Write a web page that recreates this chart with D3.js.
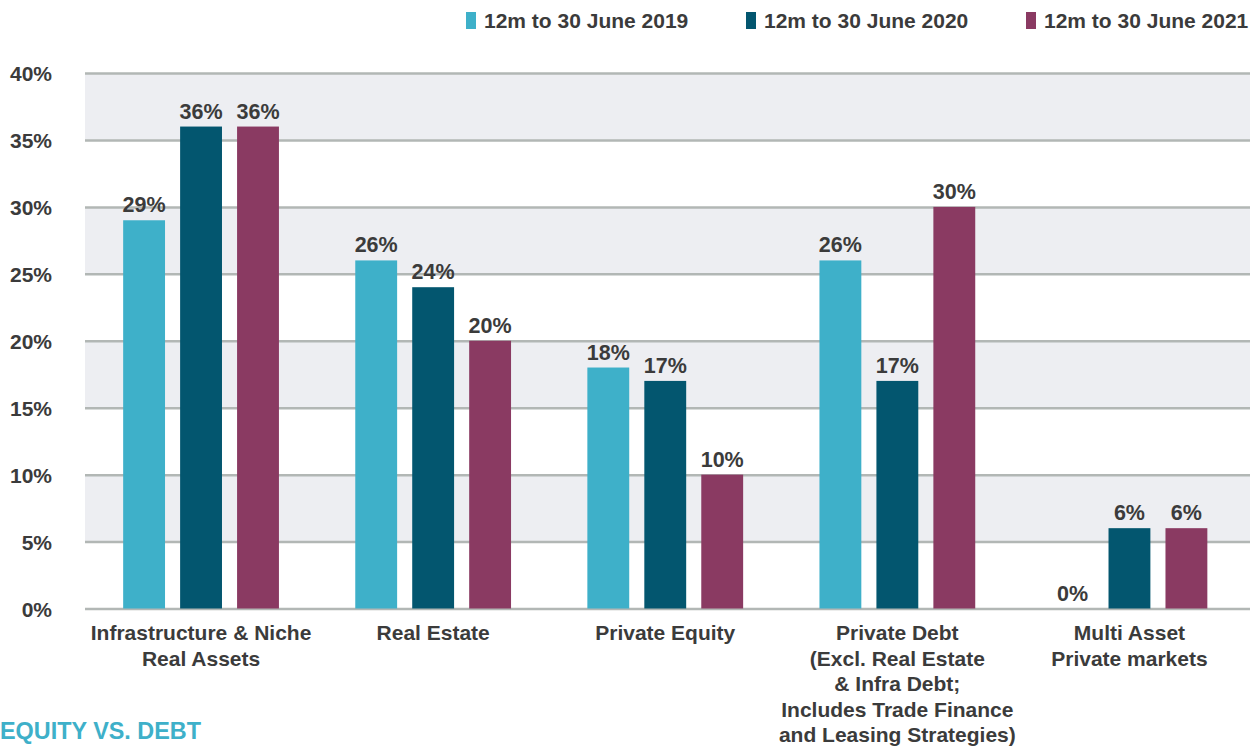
<!DOCTYPE html>
<html>
<head>
<meta charset="utf-8">
<script src="https://cdn.jsdelivr.net/npm/d3@7"></script>
<style>
  html, body { margin: 0; padding: 0; background: #ffffff; }
  svg { display: block; }
  text { font-family: "Liberation Sans", Arial, Helvetica, sans-serif; font-weight: bold; }
</style>
</head>
<body>
<svg id="chart" width="1258" height="747"></svg>
<script>
// Categories (multi-line labels) and series
const categories = [
  ["Infrastructure & Niche", "Real Assets"],
  ["Real Estate"],
  ["Private Equity"],
  ["Private Debt", "(Excl. Real Estate", "& Infra Debt;", "Includes Trade Finance", "and Leasing Strategies)"],
  ["Multi Asset", "Private markets"]
];
const seriesNames = ["12m to 30 June 2019", "12m to 30 June 2020", "12m to 30 June 2021"];
const values2019 = [29, 26, 18, 26, 0];
const values2020 = [36, 24, 17, 17, 6];
const values2021 = [36, 20, 10, 30, 6];
const yTicks = [0, 5, 10, 15, 20, 25, 30, 35, 40];
const colors = ["#3eb0c9", "#03566f", "#8a3a62"];
const title = "EQUITY VS. DEBT";

const seriesValues = [values2019, values2020, values2021];

const svg = d3.select("#chart");
const W = 1258, H = 747;
const plotLeft = 85, plotRight = 1250, groupsRight = 1245.5;
const plotTop = 73, plotBottom = 608.5;
const textColor = "#3b3b3b";

const groupIdx = d3.range(categories.length);

const x0 = d3.scaleBand()
  .domain(groupIdx)
  .range([plotLeft, groupsRight])
  .padding(0);

const x1 = d3.scaleBand()
  .domain(d3.range(seriesNames.length))
  .range([0, x0.bandwidth()])
  .paddingInner(0.265)
  .paddingOuter(0.67);

const y = d3.scaleLinear()
  .domain([0, 40])
  .range([plotBottom, plotTop]);

// Alternating shaded bands
const bandPairs = [[5, 10], [15, 20], [25, 30], [35, 40]];
svg.append("g")
  .selectAll("rect")
  .data(bandPairs)
  .join("rect")
  .attr("x", plotLeft)
  .attr("width", plotRight - plotLeft)
  .attr("y", d => y(d[1]))
  .attr("height", d => y(d[0]) - y(d[1]))
  .attr("fill", "#edeef2");

// Y axis with gridlines
const yAxis = d3.axisLeft(y)
  .tickValues(yTicks)
  .tickSize(-(plotRight - plotLeft))
  .tickPadding(33)
  .tickFormat(d => d + "%");

const gy = svg.append("g")
  .attr("transform", `translate(${plotLeft},0)`)
  .call(yAxis);
gy.select(".domain").remove();
gy.selectAll(".tick line")
  .attr("stroke", "#b2b7b5")
  .attr("stroke-width", 2.5);
gy.selectAll(".tick text")
  .attr("fill", textColor)
  .style("font-size", "21px")
  .style("font-family", "'Liberation Sans', Arial, sans-serif")
  .style("font-weight", "bold")
  .attr("dy", "0.36em");

// Bars
const groups = svg.append("g")
  .selectAll("g")
  .data(groupIdx)
  .join("g")
  .attr("transform", i => `translate(${x0(i)},0)`);

groups.selectAll("rect")
  .data(i => seriesValues.map((s, k) => ({ k, v: s[i] })))
  .join("rect")
  .attr("x", d => x1(d.k))
  .attr("width", x1.bandwidth())
  .attr("y", d => y(d.v))
  .attr("height", d => y(0) - y(d.v))
  .attr("fill", d => colors[d.k]);

// Value labels
groups.selectAll("text.val")
  .data(i => seriesValues.map((s, k) => ({ k, v: s[i] })))
  .join("text")
  .attr("class", "val")
  .attr("x", d => x1(d.k) + x1.bandwidth() / 2)
  .attr("y", d => y(d.v) - 8)
  .attr("text-anchor", "middle")
  .attr("fill", textColor)
  .style("font-size", "21.5px")
  .text(d => d.v + "%");

// Category labels
const catG = svg.append("g");
groupIdx.forEach(i => {
  const cx = x0(i) + x0.bandwidth() / 2;
  const t = catG.append("text")
    .attr("x", cx)
    .attr("y", 640)
    .attr("text-anchor", "middle")
    .attr("fill", textColor)
    .style("font-size", "21px");
  categories[i].forEach((line, j) => {
    t.append("tspan")
      .attr("x", cx)
      .attr("dy", j === 0 ? 0 : 25.5)
      .text(line);
  });
});

// Legend
const legendX = [466, 746, 1026];
const legend = svg.append("g");
seriesNames.forEach((name, k) => {
  legend.append("rect")
    .attr("x", legendX[k])
    .attr("y", 12)
    .attr("width", 10)
    .attr("height", 17)
    .attr("fill", colors[k]);
  legend.append("text")
    .attr("x", legendX[k] + 18)
    .attr("y", 28)
    .attr("fill", textColor)
    .style("font-size", "21px")
    .text(name);
});

// Section title
svg.append("text")
  .attr("x", 0)
  .attr("y", 739)
  .attr("fill", "#3eb0c9")
  .style("font-size", "23.4px")
  .text(title);
</script>
</body>
</html>
